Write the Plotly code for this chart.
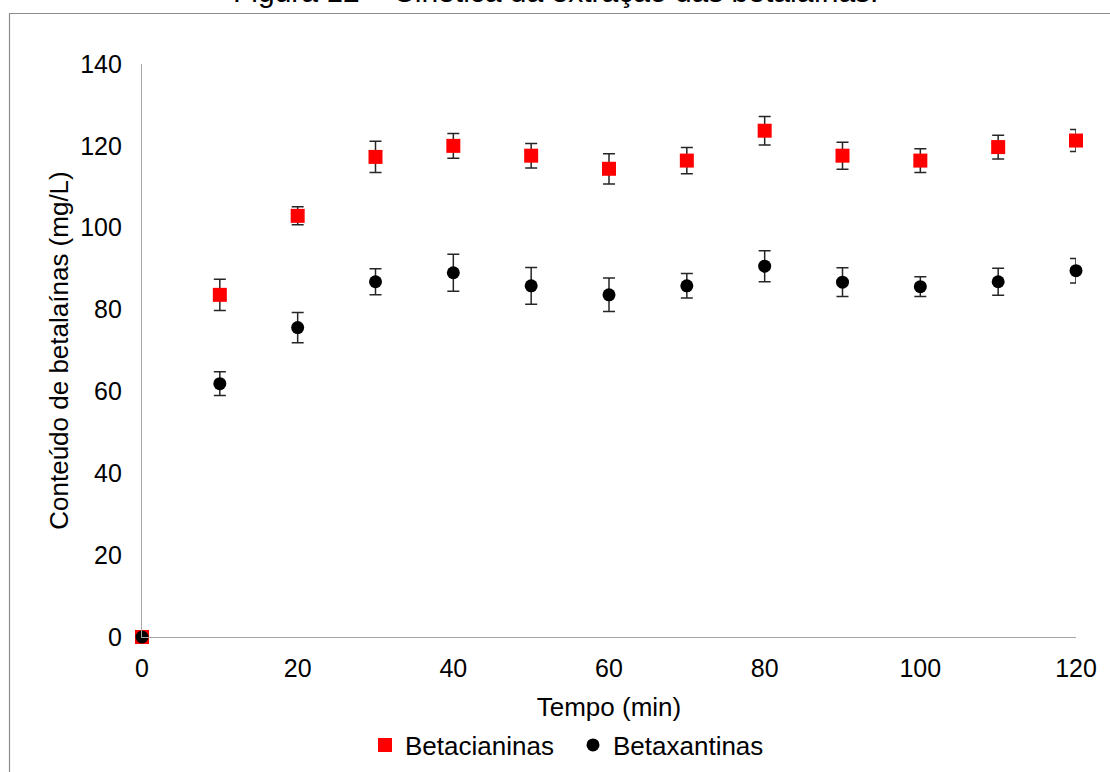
import plotly.graph_objects as go

# Data
tempo_min = [0, 10, 20, 30, 40, 50, 60, 70, 80, 90, 100, 110, 120]

betacianinas = [0, 83.6, 102.9, 117.3, 120.0, 117.6, 114.4, 116.4, 123.7, 117.6, 116.4, 119.7, 121.3]
betacianinas_err = [0, 3.8, 2.2, 3.8, 3.0, 3.0, 3.7, 3.2, 3.5, 3.3, 2.9, 2.9, 2.7]

betaxantinas = [0, 61.9, 75.6, 86.8, 89.0, 85.8, 83.6, 85.8, 90.6, 86.7, 85.6, 86.8, 89.5]
betaxantinas_err = [0, 2.9, 3.7, 3.2, 4.5, 4.5, 4.1, 3.0, 3.8, 3.5, 2.4, 3.3, 3.0]

y_ticks = [0, 20, 40, 60, 80, 100, 120, 140]
x_ticks = [0, 20, 40, 60, 80, 100, 120]

FONT = "Liberation Sans, Arial, sans-serif"

fig = go.Figure()

fig.add_trace(go.Scatter(
    x=tempo_min, y=betacianinas, mode="markers", name="Betacianinas",
    marker=dict(symbol="square", size=14, color="#ff0000", line=dict(width=0)),
    error_y=dict(type="data", array=betacianinas_err, visible=True,
                 color="#262626", thickness=1.5, width=6),
    cliponaxis=False,
))
fig.add_trace(go.Scatter(
    x=tempo_min, y=betaxantinas, mode="markers", name="Betaxantinas",
    marker=dict(symbol="circle", size=13, color="#000000", line=dict(width=0)),
    error_y=dict(type="data", array=betaxantinas_err, visible=True,
                 color="#262626", thickness=1.5, width=6),
    cliponaxis=False,
))

L, R, T, B = 142, 34, 64, 135
W, H = 1110, 772
pw, ph = W - L - R, H - T - B

def px_x(p):
    return (p - L) / pw

def px_y(p):
    return (H - B - p) / ph

fig.update_layout(
    width=W, height=H,
    margin=dict(l=L, r=R, t=T, b=B, pad=0, autoexpand=False),
    paper_bgcolor="white", plot_bgcolor="white",
    font=dict(family=FONT, size=25, color="#000000"),
    showlegend=True,
    legend=dict(
        orientation="h", x=px_x(365), xanchor="left",
        y=px_y(745), yanchor="middle",
        font=dict(family=FONT, size=26, color="#000000"),
        bgcolor="rgba(0,0,0,0)", borderwidth=0,
        entrywidth=163, entrywidthmode="pixels",
    ),
    xaxis=dict(
        range=[0, 120], tickvals=x_ticks, ticktext=[str(v) for v in x_ticks],
        showgrid=False, zeroline=False, showline=True, automargin=False,
        linecolor="#a6a6a6", linewidth=1.3, ticks="",
        ticklabelstandoff=9,
        tickfont=dict(family=FONT, size=25),
        title=dict(text="Tempo (min)", font=dict(family=FONT, size=26), standoff=16),
    ),
    yaxis=dict(
        range=[0, 140], tickvals=y_ticks, ticktext=[str(v) for v in y_ticks],
        showgrid=False, zeroline=False, showline=True, automargin=False,
        linecolor="#a6a6a6", linewidth=1.3, ticks="",
        ticklabelstandoff=14,
        tickfont=dict(family=FONT, size=25),
        title=dict(text="Conteúdo de betalaínas (mg/L)", font=dict(family=FONT, size=26), standoff=4),
    ),
    shapes=[dict(
        type="rect", xref="paper", yref="paper",
        x0=px_x(9.5), x1=px_x(1125), y0=px_y(790), y1=px_y(13.5),
        line=dict(color="#8c8c8c", width=1.2), fillcolor="rgba(0,0,0,0)", layer="below",
    )],
    annotations=[dict(
        text="Figura 12 – Cinética da extração das betalaínas.",
        xref="paper", yref="paper", x=px_x(555), y=px_y(10), xanchor="center", yanchor="bottom",
        showarrow=False, font=dict(family=FONT, size=30, color="#000000"),
    )],
)

fig.write_html("out.html")
